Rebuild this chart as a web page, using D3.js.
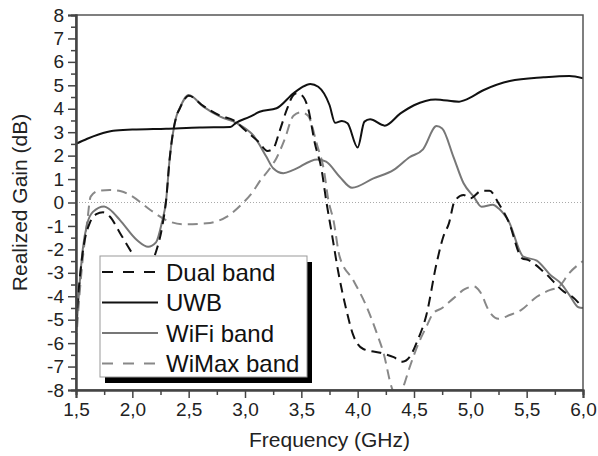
<!DOCTYPE html>
<html>
<head>
<meta charset="utf-8">
<script src="https://cdn.jsdelivr.net/npm/d3@7"></script>
<style>
  body { margin: 0; background: white; }
  svg { display: block; }
</style>
</head>
<body>
<svg id="chart"></svg>
<script>
// frequency (GHz), realized gain (dB)
let dual_band = [[1.5,-5.2],[1.53,-3.4],[1.57,-1.8],[1.62,-0.9],[1.68,-0.5],[1.74,-0.42],[1.8,-0.6],[1.89,-1.3],[1.99,-2.1],
  [2.08,-2.7],[2.15,-2.7],[2.21,-2.1],[2.27,-0.9],[2.3,0.1],[2.33,1.8],[2.39,3.66],[2.42,4.0],[2.5,4.55],[2.63,4.12],
  [2.78,3.7],[2.9,3.5],[3.0,3.09],[3.12,2.59],[3.2,2.2],[3.25,2.3],[3.31,3.09],[3.37,3.95],[3.43,4.59],[3.46,4.66],
  [3.5,4.59],[3.56,4.02],[3.62,2.53],[3.68,1.39],[3.72,0.1],[3.77,-1.31],[3.83,-3.02],[3.9,-4.59],[3.96,-5.65],
  [4.05,-6.25],[4.2,-6.41],[4.32,-6.6],[4.4,-6.79],[4.46,-6.6],[4.53,-5.9],[4.61,-4.8],[4.7,-2.6],[4.76,-1.46],
  [4.81,-0.89],[4.86,0.05],[4.94,0.32],[5.0,0.18],[5.1,0.5],[5.17,0.5],[5.25,-0.03],[5.34,-0.82],[5.46,-2.38],
  [5.51,-2.45],[5.65,-2.95],[5.83,-3.8],[5.9,-4.0],[6.0,-4.5]];

let uwb = [[1.5,2.5],[1.6,2.72],[1.7,2.9],[1.83,3.06],[2.0,3.11],[2.3,3.15],[2.6,3.2],[2.87,3.22],[2.92,3.4],[3.04,3.65],
  [3.13,3.87],[3.28,4.02],[3.43,4.66],[3.5,4.9],[3.58,5.06],[3.65,4.94],[3.75,4.16],[3.8,3.4],[3.86,3.48],[3.91,3.38],
  [4.0,2.35],[4.06,3.45],[4.11,3.55],[4.24,3.28],[4.38,3.8],[4.5,4.15],[4.69,4.4],[4.9,4.3],[4.95,4.37],[5.12,4.8],
  [5.35,5.18],[5.65,5.34],[5.88,5.4],[6.0,5.3]];

let wifi_band = [[1.5,-5.6],[1.53,-3.6],[1.56,-2.0],[1.6,-0.9],[1.65,-0.4],[1.75,-0.17],[1.8,-0.3],[1.89,-0.75],[2.04,-1.6],
  [2.14,-1.89],[2.21,-1.7],[2.26,-0.9],[2.3,0.1],[2.33,1.8],[2.39,3.66],[2.42,4.02],[2.5,4.59],[2.63,4.09],[2.78,3.66],
  [2.93,3.38],[3.04,3.02],[3.07,2.88],[3.19,1.95],[3.25,1.46],[3.34,1.25],[3.43,1.39],[3.64,1.84],[3.72,1.74],[3.84,1.1],
  [3.95,0.63],[4.14,1.03],[4.32,1.39],[4.46,1.93],[4.58,2.27],[4.7,3.26],[4.75,3.16],[4.85,1.95],[4.94,0.82],[5.03,0.25],
  [5.1,-0.18],[5.2,-0.1],[5.25,-0.25],[5.34,-0.8],[5.47,-2.31],[5.59,-2.48],[5.71,-3.09],[5.81,-3.48],[5.88,-3.95],
  [5.96,-4.47],[6.0,-4.5]];

let wimax_band = [[1.5,-6.0],[1.53,-4.0],[1.56,-2.4],[1.6,-0.8],[1.63,0.25],[1.7,0.5],[1.8,0.53],[1.9,0.48],[1.98,0.32],
  [2.16,-0.32],[2.3,-0.75],[2.45,-0.93],[2.66,-0.89],[2.84,-0.6],[2.98,-0.03],[3.07,0.46],[3.13,0.9],[3.22,1.45],[3.28,1.9],
  [3.35,2.67],[3.43,3.7],[3.5,3.85],[3.56,3.7],[3.64,2.45],[3.7,1.39],[3.74,0.1],[3.785,-0.75],[3.84,-2.31],[3.96,-3.31],
  [4.08,-4.45],[4.17,-5.58],[4.23,-6.43],[4.3,-7.86],[4.35,-8.4],[4.405,-7.86],[4.46,-7.05],[4.55,-5.9],[4.61,-5.3],
  [4.67,-4.73],[4.75,-4.5],[4.85,-4.09],[4.95,-3.7],[5.03,-3.58],[5.085,-3.8],[5.17,-4.66],[5.25,-4.96],[5.35,-4.8],
  [5.45,-4.59],[5.59,-4.02],[5.71,-3.73],[5.78,-3.62],[5.88,-3.0],[6.0,-2.5]];

let x_ticks = [1.5, 2.0, 2.5, 3.0, 3.5, 4.0, 4.5, 5.0, 5.5, 6.0];
let x_minor = [1.75, 2.25, 2.75, 3.25, 3.75, 4.25, 4.75, 5.25, 5.75];
let y_ticks = [-8, -7, -6, -5, -4, -3, -2, -1, 0, 1, 2, 3, 4, 5, 6, 7, 8];
let y_minor = [-7.5, -6.5, -5.5, -4.5, -3.5, -2.5, -1.5, -0.5, 0.5, 1.5, 2.5, 3.5, 4.5, 5.5, 6.5, 7.5];
let legend_labels = ["Dual band", "UWB", "WiFi band", "WiMax band"];

let width = 598, height = 456;
let plot_left = 76, plot_right = 583, plot_top = 15, plot_bottom = 390;
let font_family = "Arial, 'Liberation Sans', sans-serif";

let series = [
    { data: dual_band, color: "#111", dash: "10,6" },
    { data: uwb, color: "#111", dash: null },
    { data: wifi_band, color: "#777", dash: null },
    { data: wimax_band, color: "#888", dash: "10,6" }
];

let svg = d3.select("#chart")
    .attr("width", width)
    .attr("height", height)
    .style("background-color", "white");

let x = d3.scaleLinear().domain([1.5, 6]).range([plot_left, plot_right]);
let y = d3.scaleLinear().domain([-8, 8]).range([plot_bottom, plot_top]);

svg.append("clipPath").attr("id", "plot-clip")
    .append("rect")
    .attr("x", plot_left).attr("y", plot_top)
    .attr("width", plot_right - plot_left).attr("height", plot_bottom - plot_top);

// zero reference line
svg.append("line")
    .attr("x1", plot_left).attr("x2", plot_right)
    .attr("y1", y(0)).attr("y2", y(0))
    .attr("stroke", "#aaa")
    .attr("stroke-width", 1)
    .attr("stroke-dasharray", "1,2");

let line = d3.line()
    .x(d => x(d[0]))
    .y(d => y(d[1]))
    .curve(d3.curveMonotoneX);

let plot = svg.append("g").attr("clip-path", "url(#plot-clip)");

// draw in order so black lines are on top of the gray ones
[3, 2, 1, 0].forEach(i => {
    let s = series[i];
    plot.append("path")
        .datum(s.data)
        .attr("d", line)
        .attr("fill", "none")
        .attr("stroke", s.color)
        .attr("stroke-width", 2)
        .attr("stroke-dasharray", s.dash);
});

// frame
svg.append("rect")
    .attr("x", plot_left).attr("y", plot_top)
    .attr("width", plot_right - plot_left).attr("height", plot_bottom - plot_top)
    .attr("fill", "none")
    .attr("stroke", "#555")
    .attr("stroke-width", 1.5);

let comma = d => d3.format(".1f")(d).replace(".", ",");

svg.append("g")
    .attr("transform", `translate(0,${plot_bottom})`)
    .call(d3.axisBottom(x).tickValues(x_ticks).tickSize(8).tickPadding(5).tickFormat(comma));
svg.append("g")
    .attr("transform", `translate(0,${plot_bottom})`)
    .call(d3.axisBottom(x).tickValues(x_minor).tickSize(5).tickFormat(""));

svg.append("g")
    .attr("transform", `translate(${plot_left},0)`)
    .call(d3.axisLeft(y).tickValues(y_ticks).tickSize(8).tickPadding(4).tickFormat(d => String(d)));
svg.append("g")
    .attr("transform", `translate(${plot_left},0)`)
    .call(d3.axisLeft(y).tickValues(y_minor).tickSize(5).tickFormat(""));

svg.selectAll(".domain")
    .attr("stroke", "#444")
    .attr("stroke-width", 2);
svg.selectAll(".tick line")
    .attr("stroke", "#444")
    .attr("stroke-width", 1.5);
svg.selectAll(".tick text")
    .attr("font-family", font_family)
    .attr("font-size", "19px")
    .attr("fill", "#222");

// axis titles
svg.append("text")
    .attr("x", (plot_left + plot_right) / 2)
    .attr("y", 447)
    .attr("text-anchor", "middle")
    .attr("font-family", font_family)
    .attr("font-size", "21px")
    .attr("fill", "#222")
    .text("Frequency (GHz)");

svg.append("text")
    .attr("transform", `translate(27,${(plot_top + plot_bottom) / 2}) rotate(-90)`)
    .attr("text-anchor", "middle")
    .attr("font-family", font_family)
    .attr("font-size", "21px")
    .attr("fill", "#222")
    .text("Realized Gain (dB)");

// legend with drop shadow
let legend = svg.append("g");
legend.append("rect")
    .attr("x", 105).attr("y", 262)
    .attr("width", 207).attr("height", 121)
    .attr("fill", "black");
legend.append("rect")
    .attr("x", 100).attr("y", 256)
    .attr("width", 207).attr("height", 121)
    .attr("fill", "white")
    .attr("stroke", "#999")
    .attr("stroke-width", 1);

legend_labels.forEach((label, i) => {
    let s = series[i];
    let ly = 272 + i * 30.5;
    legend.append("line")
        .attr("x1", 102).attr("x2", 158)
        .attr("y1", ly).attr("y2", ly)
        .attr("stroke", s.color)
        .attr("stroke-width", 2)
        .attr("stroke-dasharray", s.dash ? "11,10" : null);
    legend.append("text")
        .attr("x", 166)
        .attr("y", ly + 8.5)
        .attr("font-family", font_family)
        .attr("font-size", "24px")
        .attr("fill", "#111")
        .text(label);
});
</script>
</body>
</html>
